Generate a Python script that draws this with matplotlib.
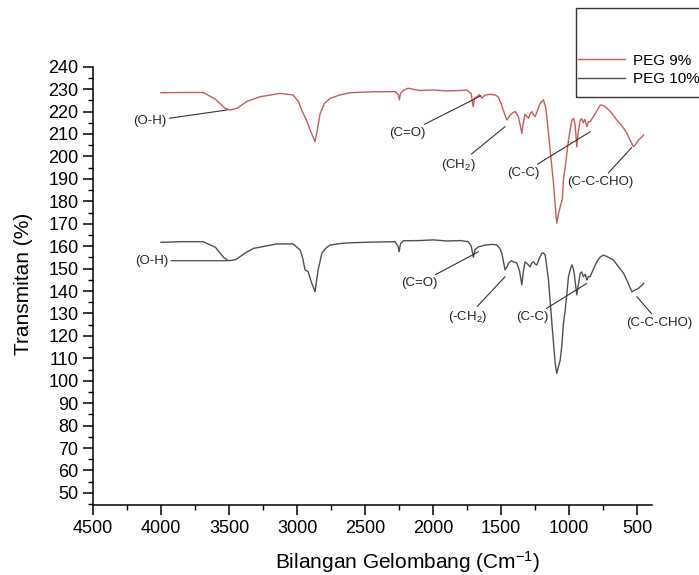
import matplotlib
matplotlib.use("Agg")
import matplotlib.pyplot as plt
from matplotlib.ticker import MultipleLocator
from matplotlib.patches import Rectangle

plt.rcParams['font.family'] = ['Liberation Sans', 'DejaVu Sans']
plt.rcParams['mathtext.default'] = 'regular'

# PEG 9% spectrum (wavenumber, transmittance)
wn_peg9 = [4000, 3850, 3690, 3600, 3530, 3493, 3440, 3370, 3272, 3125, 3029, 2990, 2966, 2930, 2904,
           2868, 2850, 2831, 2800, 2757, 2680, 2610, 2450, 2279, 2255, 2248, 2240, 2215, 2184, 2100,
           2000, 1900, 1800, 1753, 1720, 1706, 1695, 1678, 1660, 1642, 1620, 1581, 1540, 1522, 1500,
           1485, 1458, 1434, 1415, 1397, 1375, 1360, 1348, 1337, 1324, 1299, 1287, 1275, 1262, 1250,
           1230, 1213, 1189, 1175, 1164, 1140, 1115, 1100, 1091, 1080, 1066, 1050, 1042, 1029, 1005,
           990, 980, 968, 956, 944, 935, 919, 908, 897, 885, 870, 858, 846, 830, 809,
           790, 772, 750, 723, 690, 650, 610, 576, 550, 527, 510, 490, 470, 453]
t_peg9 = [228.4, 228.5, 228.5, 225.5, 221.5, 220.7, 221.5, 224.5, 226.6, 228.1, 227.4, 224.5, 220.7, 216.0, 211.8,
          206.6, 212.0, 219.0, 223.5, 225.9, 227.5, 228.4, 228.8, 228.9, 227.5, 225.2, 228.0, 229.6, 230.4, 229.4,
          229.6, 229.2, 229.4, 229.6, 228.0, 222.2, 226.0, 226.6, 227.5, 226.0, 227.3, 227.7, 227.3, 226.6, 223.5,
          220.7, 216.2, 218.4, 219.5, 220.0, 218.0, 214.0, 210.3, 215.0, 218.8, 217.0, 219.0, 220.0, 218.5, 217.7,
          221.0, 223.7, 225.2, 222.5, 217.7, 202.9, 188.0, 176.0, 170.2, 174.0, 177.6, 181.0, 189.5, 195.4, 207.3,
          213.0, 216.2, 217.0, 214.0, 204.3, 210.0, 216.2, 216.8, 215.0, 216.5, 213.3, 215.5, 215.5, 217.0, 219.0,
          221.0, 222.9, 222.7, 221.5, 219.5, 216.2, 213.5, 210.3, 207.0, 204.3, 205.5, 207.3, 208.5, 209.5]

# PEG 10% spectrum
wn_peg10 = [4000, 3850, 3690, 3600, 3540, 3505, 3450, 3380, 3320, 3150, 3029, 2978, 2960, 2941, 2919,
            2895, 2868, 2858, 2845, 2818, 2790, 2757, 2680, 2610, 2450, 2280, 2258, 2250, 2240, 2220,
            2100, 2000, 1900, 1800, 1743, 1720, 1704, 1692, 1667, 1645, 1618, 1560, 1532, 1510, 1495,
            1471, 1455, 1446, 1425, 1409, 1385, 1365, 1348, 1336, 1324, 1305, 1287, 1275, 1262, 1250,
            1238, 1220, 1201, 1190, 1176, 1165, 1152, 1127, 1103, 1091, 1080, 1066, 1055, 1042, 1029,
            1015, 1005, 990, 980, 970, 963, 944, 932, 919, 908, 895, 882, 870, 858, 846,
            820, 797, 775, 748, 720, 674, 640, 600, 570, 539, 527, 515, 495, 478, 465, 453]
t_peg10 = [161.7, 162.0, 162.0, 159.5, 155.0, 153.5, 154.0, 157.0, 159.0, 161.0, 161.0, 158.3, 155.0, 149.4, 148.7,
           144.0, 139.7, 144.0, 149.4, 156.8, 159.0, 160.5, 161.2, 161.5, 161.8, 162.0, 160.0, 157.5, 161.0, 162.4,
           162.5, 162.8, 162.3, 162.5, 162.0, 160.0, 155.0, 158.5, 159.7, 160.0, 160.5, 160.8, 160.5, 159.0, 156.8,
           149.4, 151.0, 152.3, 153.5, 153.0, 152.5, 149.0, 142.7, 149.0, 153.0, 152.0, 150.8, 152.5, 153.0, 152.0,
           151.6, 154.5, 156.8, 157.0, 156.0, 151.0, 144.9, 125.6, 107.8, 103.3, 106.0, 109.2, 115.0, 125.6, 131.6,
           140.0, 146.4, 150.0, 151.6, 150.0, 147.9, 138.3, 143.0, 147.9, 148.5, 146.4, 147.5, 144.9, 146.5, 146.4,
           150.0, 153.0, 155.0, 156.0, 155.3, 153.8, 151.0, 147.9, 144.0, 139.7, 140.0, 140.5, 141.0, 141.9, 142.5, 143.4]

series_labels = ["PEG 9%", "PEG 10%"]

# annotation labels: (text, point on curve, text position)
ann_peg9 = [("(O-H)", (3515, 220.7), (4081, 215.8)),
            ("(C=O)", (1650, 227.0), (2191, 210.4)),
            ("(CH$_2$)", (1471, 213.3), (1816, 196.2)),
            ("(C-C)", (846, 211.0), (1338, 192.6)),
            ("(C-C-CHO)", (540, 204.0), (772, 188.7))]
ann_peg10 = [("(O-H)", (3515, 153.5), (4070, 153.5)),
             ("(C=O)", (1667, 157.5), (2103, 143.4)),
             ("(-CH$_2$)", (1471, 146.4), (1750, 128.3)),
             ("(C-C)", (870, 143.4), (1272, 128.3)),
             ("(C-C-CHO)", (503, 137.5), (338, 125.9))]

fig = plt.figure(figsize=(6.99, 5.75), dpi=100)
ax = fig.add_axes([0.133, 0.1217, 0.8, 0.7623])

ax.plot(wn_peg9, t_peg9, color='#cc5a5a', lw=1.0, label=series_labels[0])
ax.plot(wn_peg10, t_peg10, color='#505050', lw=1.0, label=series_labels[1])

for txt, xy, xyt in ann_peg9 + ann_peg10:
    ax.annotate(txt, xy=xy, xytext=xyt, fontsize=9.5, ha='center', va='center',
                color='#222222', annotation_clip=False,
                arrowprops=dict(arrowstyle='-', color='#333333', lw=0.8,
                                shrinkA=0, shrinkB=0))

ax.set_xlim(4500, 390)
ax.set_ylim(44.6, 240)
ax.xaxis.set_major_locator(MultipleLocator(500))
ax.xaxis.set_minor_locator(MultipleLocator(250))
ax.yaxis.set_major_locator(MultipleLocator(10))
ax.yaxis.set_minor_locator(MultipleLocator(5))
ax.set_yticks(list(range(50, 241, 10)))
ax.spines['top'].set_visible(False)
ax.spines['right'].set_visible(False)
for s in ('left', 'bottom'):
    ax.spines[s].set_linewidth(1.1)
ax.tick_params(axis='both', which='major', labelsize=13, length=7, width=1.1, direction='out')
ax.tick_params(axis='both', which='minor', length=3.5, width=1.0, direction='out')

ax.set_xlabel('Bilangan Gelombang (Cm$^{-1}$)', fontsize=15)
ax.set_ylabel('Transmitan (%)', fontsize=15)
ax.xaxis.set_label_coords(0.5626, -0.10)
ax.yaxis.set_label_coords(-0.107, 0.504)

# legend entries (frame drawn separately to match the tall, open-topped box)
leg = fig.legend(loc='center left', bbox_to_anchor=(578 / 699, 1 - 70 / 575), fontsize=11,
                 frameon=False, handlelength=3.1, handletextpad=0.5,
                 labelspacing=0.3, borderpad=0, borderaxespad=0)
fig.patches.append(Rectangle((576 / 699, 1 - 97 / 575), 140 / 699, 89 / 575,
                             transform=fig.transFigure, fill=False,
                             edgecolor='#333333', lw=1.0))

fig.savefig('out.png', dpi=100)
